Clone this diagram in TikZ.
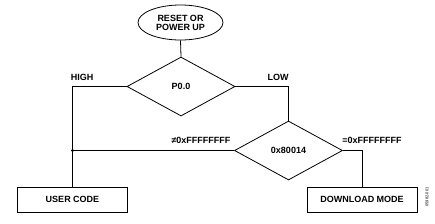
\documentclass[tikz,border=0pt]{standalone}
\usepackage{fontspec}
\setmainfont{Liberation Sans}
\usetikzlibrary{shapes.geometric}
\begin{document}
\begin{tikzpicture}[x=1pt,y=-1pt,
  every node/.style={font=\bfseries\fontsize{9}{9}\selectfont, inner sep=0pt},
  line/.style={line width=0.8pt, black},
  decision/.style={diamond, draw, line width=0.8pt, minimum width=108pt, minimum height=59pt},
  stepbox/.style={rectangle, draw, line width=0.8pt, minimum width=110pt, minimum height=25pt},
  terminal/.style={ellipse, draw, line width=0.8pt, minimum width=85pt, minimum height=35pt, align=center}]
\useasboundingbox (0,0) rectangle (435,223);
\node[terminal] (start) at (180.5,22.5) {RESET OR\\POWER UP};
\node[decision] (d1) at (181,86.5) {P0.0};
\node[decision] (d2) at (288.5,150.5) {0x80014};
\node[stepbox] (user) at (72.5,199.5) {USER CODE};
\node[stepbox] (dl) at (362,199.5) {DOWNLOAD MODE};
\coordinate (dot) at (user.north |- d2.west);
\draw[line] (start.south) -- (d1.north);
\draw[line] (d1.west) -| (user.north);
\draw[line] (d1.east) -| (d2.north);
\draw[line] (d2.west) -- (dot);
\draw[line] (d2.east) -| (dl.north);
\fill (dot) circle (1.7pt);
\node (high) at (82,77) {HIGH};
\node (low) at (278,77) {LOW};
\node (ne) at (201,140) {≠0xFFFFFFFF};
\node (eq) at (372,140) {=0xFFFFFFFF};
\node[rotate=90, font=\fontsize{4}{4}\selectfont] (fig) at (427,197) {05982-001};
\end{tikzpicture}
\end{document}
